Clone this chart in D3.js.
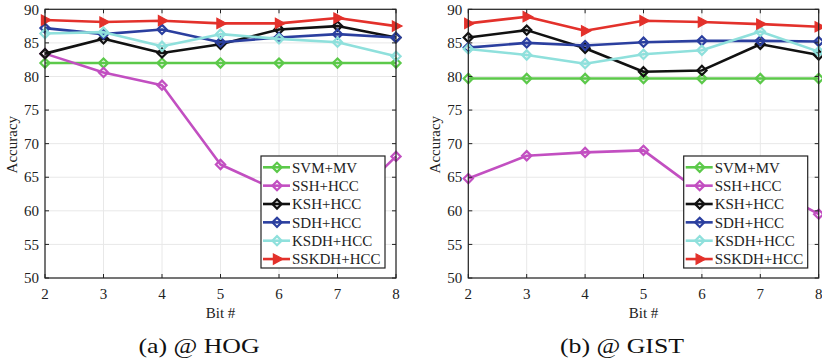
<!DOCTYPE html>
<html>
<head>
<meta charset="utf-8">
<script src="https://cdn.jsdelivr.net/npm/d3@7"></script>
<style>
  body { margin: 0; background: #fff; }
  svg { display: block; }
</style>
</head>
<body>
<div id="container"></div>
<script>
// Data
const bits = [2, 3, 4, 5, 6, 7, 8];
const methods = ["SVM+MV", "SSH+HCC", "KSH+HCC", "SDH+HCC", "KSDH+HCC", "SSKDH+HCC"];
const colors = ["#5cc94a", "#c24fc1", "#111111", "#2b3f9f", "#8fe0dc", "#e3312b"];
const markers = ["diamond", "diamond", "diamond", "diamond", "diamond", "triangle"];

const hog = [
  [82.0, 82.0, 82.0, 82.0, 82.0, 82.0, 82.0],
  [83.4, 80.6, 78.7, 66.9, 62.9, 59.6, 68.1],
  [83.4, 85.6, 83.5, 84.8, 87.0, 87.5, 85.8],
  [87.2, 86.3, 87.0, 85.1, 85.8, 86.3, 85.8],
  [86.4, 86.6, 84.5, 86.3, 85.6, 85.1, 83.0],
  [88.4, 88.1, 88.3, 87.9, 87.9, 88.7, 87.5]
];
const gist = [
  [79.7, 79.7, 79.7, 79.7, 79.7, 79.7, 79.7],
  [64.8, 68.2, 68.7, 69.0, 62.6, 64.2, 59.5],
  [85.8, 86.9, 84.2, 80.7, 80.9, 84.8, 83.2],
  [84.3, 85.0, 84.6, 85.1, 85.3, 85.3, 85.2],
  [84.1, 83.2, 81.9, 83.3, 83.9, 86.7, 83.7],
  [87.9, 88.9, 86.8, 88.3, 88.1, 87.8, 87.4]
];
const yTicks = [50, 55, 60, 65, 70, 75, 80, 85, 90];
const panels = [
  { caption: "(a) @ HOG", values: hog, left: 45, right: 396 },
  { caption: "(b) @ GIST", values: gist, left: 468.3, right: 818.7 }
];

const width = 822, height = 362;
const plotTop = 9.3, plotBottom = 278;
const serif = "'Liberation Serif', 'Times New Roman', serif";

const svg = d3.select("#container").append("svg")
  .attr("width", width)
  .attr("height", height);

const diamond = (s) => `M0,${-s}L${s},0L0,${s}L${-s},0Z`;
const triangle = (s) => `M${s},0L${-s * 0.6},${-s * 0.85}L${-s * 0.6},${s * 0.85}Z`;

const drawMarker = (g, type, color) => {
  if (type === "triangle") {
    g.append("path").attr("d", triangle(6)).attr("fill", color).attr("stroke", color).attr("stroke-width", 1.2);
  } else {
    g.append("path").attr("d", diamond(4.6)).attr("fill", "none").attr("stroke", color).attr("stroke-width", 2.2);
  }
};

panels.forEach((p) => {
  const x = d3.scaleLinear().domain([2, 8]).range([p.left, p.right]);
  const y = d3.scaleLinear().domain([50, 90]).range([plotBottom, plotTop]);
  const g = svg.append("g");

  // grid
  g.append("g").selectAll("line").data(bits).join("line")
    .attr("x1", d => x(d)).attr("x2", d => x(d))
    .attr("y1", plotTop).attr("y2", plotBottom)
    .attr("stroke", "#e8e8e8").attr("stroke-width", 1);
  g.append("g").selectAll("line").data(yTicks).join("line")
    .attr("x1", p.left).attr("x2", p.right)
    .attr("y1", d => y(d)).attr("y2", d => y(d))
    .attr("stroke", "#e8e8e8").attr("stroke-width", 1);

  // lines + markers
  const line = d3.line().x((d, i) => x(bits[i])).y(d => y(d));
  p.values.forEach((vals, k) => {
    g.append("path")
      .datum(vals)
      .attr("d", line)
      .attr("fill", "none")
      .attr("stroke", colors[k])
      .attr("stroke-width", 2.6)
      .attr("stroke-linejoin", "round");
    vals.forEach((v, i) => {
      const m = g.append("g").attr("transform", `translate(${x(bits[i])},${y(v)})`);
      drawMarker(m, markers[k], colors[k]);
    });
  });

  // box + ticks (inward, mirrored)
  g.append("rect")
    .attr("x", p.left).attr("y", plotTop)
    .attr("width", p.right - p.left).attr("height", plotBottom - plotTop)
    .attr("fill", "none").attr("stroke", "#222").attr("stroke-width", 1.2);
  const tk = 4;
  g.append("g").selectAll("path").data(bits).join("path")
    .attr("d", d => `M${x(d)},${plotBottom}v${-tk}M${x(d)},${plotTop}v${tk}`)
    .attr("stroke", "#222").attr("stroke-width", 1);
  g.append("g").selectAll("path").data(yTicks).join("path")
    .attr("d", d => `M${p.left},${y(d)}h${tk}M${p.right},${y(d)}h${-tk}`)
    .attr("stroke", "#222").attr("stroke-width", 1);

  // tick labels
  g.append("g").attr("font-family", serif).attr("font-size", 15).attr("fill", "#222")
    .selectAll("text").data(yTicks).join("text")
    .attr("x", p.left - 6).attr("y", d => y(d)).attr("dy", "0.35em")
    .attr("text-anchor", "end").text(d => d);
  g.append("g").attr("font-family", serif).attr("font-size", 15).attr("fill", "#222")
    .selectAll("text").data(bits).join("text")
    .attr("x", d => x(d)).attr("y", 299)
    .attr("text-anchor", "middle").text(d => d);

  // axis titles
  g.append("text")
    .attr("font-family", serif).attr("font-size", 15).attr("fill", "#222")
    .attr("text-anchor", "middle")
    .attr("transform", `translate(${p.left - 28},${(plotTop + plotBottom) / 2 + 1}) rotate(-90)`)
    .text("Accuracy");
  g.append("text")
    .attr("font-family", serif).attr("font-size", 15).attr("fill", "#222")
    .attr("text-anchor", "middle")
    .attr("x", (p.left + p.right) / 2).attr("y", 318)
    .text("Bit #");

  // caption (widened to mimic the LaTeX font)
  g.append("text")
    .attr("font-family", serif).attr("font-size", 21).attr("fill", "#111")
    .attr("text-anchor", "middle")
    .attr("transform", `translate(${(p.left + p.right) / 2 - 21.5},353) scale(1.23,1)`)
    .text(p.caption);

  // legend
  const lx = p.right - 135, ly = 156, lw = 124, lh = 112, rowH = 18.35;
  const leg = g.append("g");
  leg.append("rect")
    .attr("x", lx).attr("y", ly).attr("width", lw).attr("height", lh)
    .attr("fill", "#fff").attr("stroke", "#222").attr("stroke-width", 1.2);
  methods.forEach((name, k) => {
    const cy = ly + 11.3 + k * rowH;
    leg.append("line")
      .attr("x1", lx + 2).attr("x2", lx + 29).attr("y1", cy).attr("y2", cy)
      .attr("stroke", colors[k]).attr("stroke-width", 2.6);
    const m = leg.append("g").attr("transform", `translate(${lx + 16},${cy})`);
    drawMarker(m, markers[k], colors[k]);
    leg.append("text")
      .attr("font-family", serif).attr("font-size", 15).attr("fill", "#222")
      .attr("x", lx + 31).attr("y", cy).attr("dy", "0.35em")
      .text(name);
  });
});
</script>
</body>
</html>
